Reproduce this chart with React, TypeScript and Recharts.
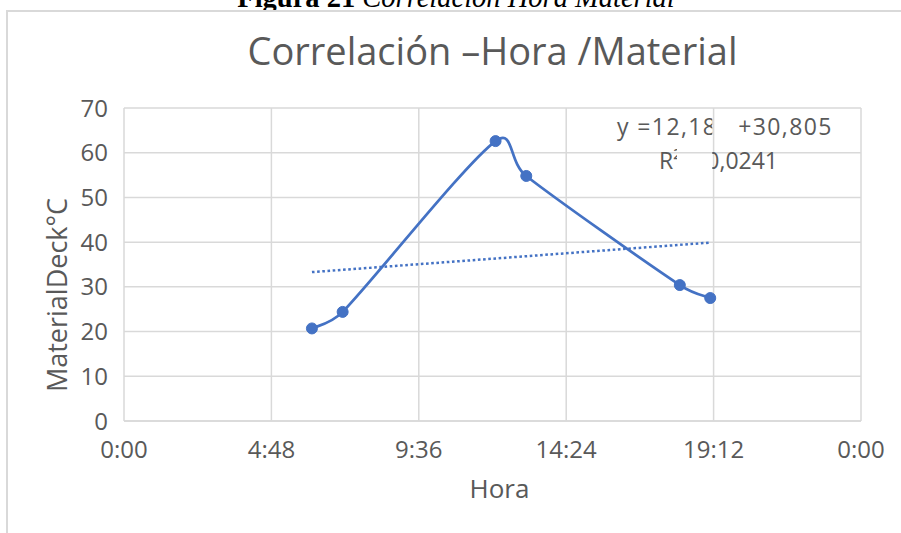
import { ComposedChart, Line, XAxis, YAxis, CartesianGrid, Customized } from 'recharts';

// Hora del día (decimal) y temperatura del material
const horas = [6.12, 7.12, 12.1, 13.1, 18.1, 19.09];
const materialDeck = [20.7, 24.4, 62.6, 54.8, 30.4, 27.5];

// Línea de tendencia lineal (extremos)
const tendenciaHoras = [6.12, 19.09];
const tendenciaValores = [33.3, 39.9];

const xTicks = [0, 4.8, 9.6, 14.4, 19.2, 24];
const yTicks = [0, 10, 20, 30, 40, 50, 60, 70];

const serie = horas.map((hora, i) => ({ hora, valor: materialDeck[i] }));
const tendencia = tendenciaHoras.map((hora, i) => ({ hora, valor: tendenciaValores[i] }));

const FONT = "'Open Sans', 'DejaVu Sans', sans-serif";
const GRAY = '#595959';
const GRID = '#d9d9d9';
const BLUE = '#4472c4';

const formatHora = (v: number) => {
  const h = Math.floor(v + 1e-9);
  const m = Math.round((v - h) * 60);
  return `${h % 24}:${m.toString().padStart(2, '0')}`;
};

// Excel-like smoothed line: Catmull-Rom tangents, control arms capped to half the segment
const excelSmooth = (context: any) => {
  let pts: number[][] = [];
  const arm = (dx: number, dy: number, maxLen: number) => {
    const len = Math.hypot(dx, dy);
    if (len <= maxLen || len === 0) return [dx, dy];
    return [(dx / len) * maxLen, (dy / len) * maxLen];
  };
  return {
    areaStart() {},
    areaEnd() {},
    lineStart() {
      pts = [];
    },
    point(x: number, y: number) {
      pts.push([+x, +y]);
    },
    lineEnd() {
      const n = pts.length;
      if (!n) return;
      context.moveTo(pts[0][0], pts[0][1]);
      for (let i = 0; i < n - 1; i++) {
        const p0 = pts[i - 1] || pts[i];
        const p1 = pts[i];
        const p2 = pts[i + 1];
        const p3 = pts[i + 2] || p2;
        const seg = Math.hypot(p2[0] - p1[0], p2[1] - p1[1]) * 0.5;
        const a = arm((p2[0] - p0[0]) / 6, (p2[1] - p0[1]) / 6, seg);
        const b = arm((p3[0] - p1[0]) / 6, (p3[1] - p1[1]) / 6, seg);
        context.bezierCurveTo(p1[0] + a[0], p1[1] + a[1], p2[0] - b[0], p2[1] - b[1], p2[0], p2[1]);
      }
    },
  };
};

const Decor = () => (
  <g fontFamily={FONT} fill={GRAY}>
    <defs>
      <clipPath id="eq1">
        <rect x={0} y={0} width={712.3} height={533} />
        <rect x={730} y={0} width={200} height={533} />
      </clipPath>
      <clipPath id="eq2">
        <rect x={0} y={0} width={677} height={533} />
        <rect x={712.3} y={0} width={200} height={533} />
      </clipPath>
    </defs>
    <text x={492.5} y={65} fontSize={38} textAnchor="middle">
      Correlación –Hora /Material
    </text>
    <text x={617} y={135} fontSize={23} letterSpacing={1.4} clipPath="url(#eq1)">
      y =12,18x +30,805
    </text>
    <text x={659} y={169} fontSize={23} clipPath="url(#eq2)">
      R² = 0,0241
    </text>
    <text x={56} y={295} fontSize={27} textAnchor="middle" dominantBaseline="central" transform="rotate(-90 56 295)">
      MaterialDeck°C
    </text>
    <text x={499.5} y={498} fontSize={26} textAnchor="middle">
      Hora
    </text>
  </g>
);

export default function App() {
  return (
    <div
      style={{
        position: 'absolute',
        left: 0,
        top: 0,
        width: 901,
        height: 533,
        overflow: 'hidden',
        background: '#fff',
      }}
    >
      <div
        style={{
          position: 'absolute',
          left: 0,
          width: 912,
          top: -15.6,
          textAlign: 'center',
          fontFamily: "'Liberation Serif', serif",
          fontSize: 28.5,
          lineHeight: '28.5px',
          whiteSpace: 'nowrap',
          color: '#000',
        }}
      >
        <b>Figura 21</b> <i>Correlación Hora Material</i>
      </div>
      <div
        style={{
          position: 'absolute',
          left: 6,
          top: 10,
          width: 1000,
          height: 600,
          borderLeft: `2px solid ${GRID}`,
          borderTop: `2px solid ${GRID}`,
          background: '#fff',
        }}
      />
      <div style={{ position: 'absolute', left: 0, top: 0 }}>
        <ComposedChart width={901} height={533} margin={{ top: 108, right: 40, bottom: 52, left: 0 }}>
          <CartesianGrid stroke={GRID} strokeWidth={1.5} />
          <XAxis
            type="number"
            dataKey="hora"
            domain={[0, 24]}
            ticks={xTicks}
            tickFormatter={formatHora}
            height={60}
            axisLine={{ stroke: GRID, strokeWidth: 1.5 }}
            tickLine={false}
            tickMargin={14}
            tick={{ fill: GRAY, fontSize: 24, fontFamily: FONT }}
            allowDataOverflow
          />
          <YAxis
            type="number"
            domain={[0, 70]}
            ticks={yTicks}
            width={124}
            axisLine={false}
            tickLine={false}
            tickMargin={10}
            tick={{ fill: GRAY, fontSize: 24, fontFamily: FONT }}
          />
          <Line
            data={tendencia}
            dataKey="valor"
            type="linear"
            stroke={BLUE}
            strokeWidth={2.5}
            strokeDasharray="2.6 2.6"
            dot={false}
            isAnimationActive={false}
          />
          <Line
            data={serie}
            dataKey="valor"
            type={excelSmooth as any}
            stroke={BLUE}
            strokeWidth={2.75}
            dot={{ r: 5.5, fill: BLUE, stroke: BLUE, strokeWidth: 1 }}
            isAnimationActive={false}
          />
          <Customized component={<Decor />} />
        </ComposedChart>
      </div>
    </div>
  );
}
